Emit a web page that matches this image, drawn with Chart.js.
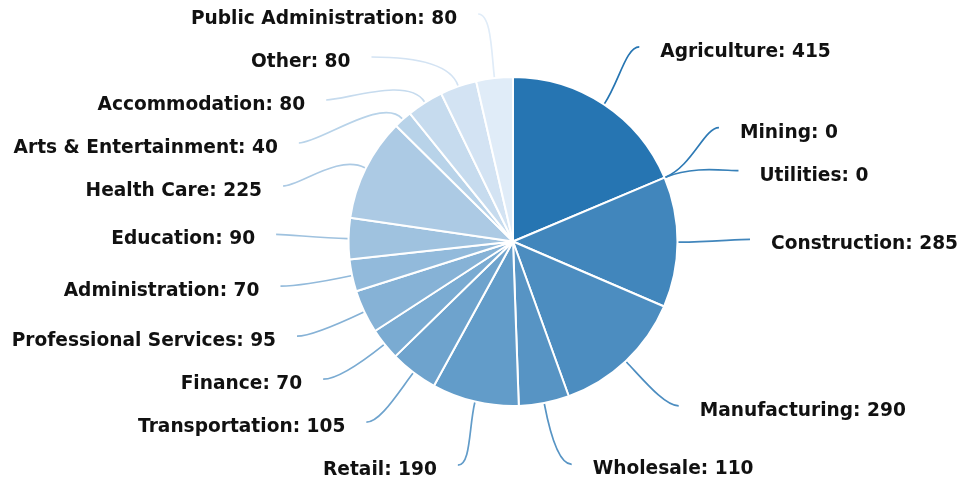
<!DOCTYPE html>
<html>
<head>
<meta charset="utf-8">
<script src="https://cdn.jsdelivr.net/npm/chart.js@4.4.1/dist/chart.umd.min.js"></script>
<style>
  html, body { margin: 0; padding: 0; background: #fff; }
  #wrap { width: 959px; height: 484px; position: relative; }
</style>
</head>
<body>
<div id="wrap"><canvas id="industryPie"></canvas></div>
<script>
var industries = ['Agriculture', 'Mining', 'Utilities', 'Construction', 'Manufacturing', 'Wholesale',
    'Retail', 'Transportation', 'Finance', 'Professional Services', 'Administration', 'Education',
    'Health Care', 'Arts & Entertainment', 'Accommodation', 'Other', 'Public Administration'];
var counts = [415, 0, 0, 285, 290, 110, 190, 105, 70, 95, 70, 90, 225, 40, 80, 80, 80];

// slices go from dark to light blue in the order they are drawn
function shade(i, n) {
    var dark = [38, 117, 178], light = [224, 236, 248];
    var t = Math.pow(i / (n - 1), 1.15);
    var c = dark.map(function(d, k) { return Math.round(d + (light[k] - d) * t); });
    return 'rgb(' + c.join(',') + ')';
}
var colors = industries.map(function(_, i) { return shade(i, industries.length); });

var labelFont = "bold 18.6px 'DejaVu Sans', sans-serif";

// labels outside the pie, joined to their slice by a curved leader line
var calloutPlugin = {
    id: 'callouts',
    afterDatasetsDraw: function(chart) {
        var ctx = chart.ctx;
        var arcs = chart.getDatasetMeta(0).data;
        var rx = 237, ry = 230, gap = 43, top = 17, bottom = 472;

        var items = arcs.map(function(arc, i) {
            var mid = (arc.startAngle + arc.endAngle) / 2;
            return { i: i, arc: arc, mid: mid, right: Math.cos(mid) >= 0, y: arc.y + ry * Math.sin(mid) };
        });

        // push labels apart vertically on each side
        [true, false].forEach(function(side) {
            var group = items.filter(function(it) { return it.right === side; })
                             .sort(function(a, b) { return a.y - b.y; });
            for (var iter = 0; iter < 300; iter++) {
                for (var k = 1; k < group.length; k++) {
                    var d = group[k].y - group[k - 1].y;
                    if (d < gap) {
                        var s = (gap - d) / 2;
                        group[k - 1].y -= s;
                        group[k].y += s;
                    }
                }
                group.forEach(function(it) { it.y = Math.min(bottom, Math.max(top, it.y)); });
            }
        });

        ctx.save();
        items.forEach(function(it) {
            var arc = it.arc, cx = arc.x, cy = arc.y, r = arc.outerRadius + 1;
            var dir = it.right ? 1 : -1;
            var ux = Math.cos(it.mid), uy = Math.sin(it.mid);
            var sx = cx + r * ux, sy = cy + r * uy;
            var ey = it.y - 3;
            var k = Math.max(0, 1 - Math.pow((ey - cy) / ry, 2));
            var ex = cx + dir * rx * Math.sqrt(k);
            var dist = Math.hypot(ex - sx, ey - sy);
            var out = Math.min(30, dist * 0.4), flat = dist * 0.2;

            ctx.beginPath();
            ctx.moveTo(sx, sy);
            ctx.bezierCurveTo(sx + ux * out, sy + uy * out, ex - dir * flat, ey, ex, ey);
            ctx.strokeStyle = colors[it.i];
            ctx.lineWidth = 1.7;
            ctx.stroke();

            ctx.font = labelFont;
            ctx.fillStyle = '#111';
            ctx.textBaseline = 'middle';
            ctx.textAlign = it.right ? 'left' : 'right';
            ctx.fillText(industries[it.i] + ': ' + counts[it.i], ex + dir * 21, it.y + 2);
        });
        ctx.restore();
    }
};

var ctx = document.getElementById('industryPie').getContext('2d');
var chart = new Chart(ctx, {
    type: 'pie',
    data: {
        labels: industries,
        datasets: [{
            data: counts,
            backgroundColor: colors,
            borderColor: '#ffffff',
            borderWidth: 2,
            hoverBorderWidth: 2,
            hoverOffset: 0
        }]
    },
    options: {
        responsive: true,
        maintainAspectRatio: false,
        animation: false,
        layout: { padding: { left: 347.5, right: 280.5, top: 76, bottom: 77 } },
        plugins: {
            legend: { display: false },
            tooltip: { enabled: false }
        }
    },
    plugins: [calloutPlugin]
});
</script>
</body>
</html>
